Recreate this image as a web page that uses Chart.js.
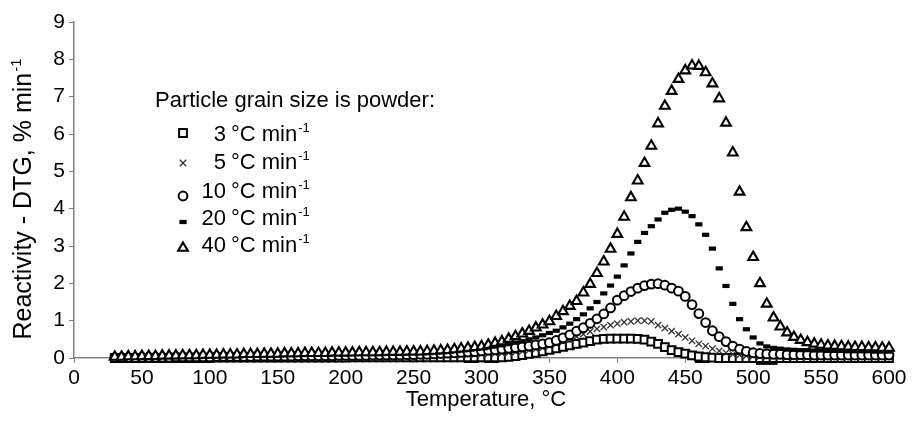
<!DOCTYPE html>
<html>
<head>
<meta charset="utf-8">
<script src="https://cdn.jsdelivr.net/npm/chart.js"></script>
<style>
  html, body { margin: 0; padding: 0; background: #fff; }
  #wrap { width: 914px; height: 431px; }
</style>
</head>
<body>
<div id="wrap"><canvas id="chart" width="914" height="431"></canvas></div>
<script>
// temperature, °C (one reading every 5 °C)
const temps = [
  30, 35, 40, 45, 50, 55, 60, 65, 70, 75,
  80, 85, 90, 95, 100, 105, 110, 115, 120, 125,
  130, 135, 140, 145, 150, 155, 160, 165, 170, 175,
  180, 185, 190, 195, 200, 205, 210, 215, 220, 225,
  230, 235, 240, 245, 250, 255, 260, 265, 270, 275,
  280, 285, 290, 295, 300, 305, 310, 315, 320, 325,
  330, 335, 340, 345, 350, 355, 360, 365, 370, 375,
  380, 385, 390, 395, 400, 405, 410, 415, 420, 425,
  430, 435, 440, 445, 450, 455, 460, 465, 470, 475,
  480, 485, 490, 495, 500, 505, 510, 515, 520, 525,
  530, 535, 540, 545, 550, 555, 560, 565, 570, 575,
  580, 585, 590, 595, 600
];

// DTG, % min-1
const rate3 = [
  0.00, 0.00, 0.00, 0.00, 0.00, 0.00, 0.00, 0.00, 0.00, 0.00,
  0.00, 0.00, 0.00, 0.00, 0.00, 0.01, 0.01, 0.01, 0.01, 0.01,
  0.01, 0.01, 0.01, 0.01, 0.01, 0.01, 0.01, 0.01, 0.01, 0.01,
  0.01, 0.01, 0.01, 0.01, 0.01, 0.02, 0.02, 0.02, 0.02, 0.02,
  0.02, 0.02, 0.02, 0.02, 0.02, 0.02, 0.02, 0.02, 0.02, 0.02,
  0.02, 0.02, 0.02, 0.02, 0.02, 0.02, 0.02, 0.02, 0.03, 0.05,
  0.08, 0.11, 0.14, 0.18, 0.22, 0.26, 0.30, 0.34, 0.38, 0.41,
  0.45, 0.49, 0.51, 0.52, 0.52, 0.52, 0.52, 0.51, 0.49, 0.44,
  0.38, 0.29, 0.21, 0.16, 0.12, 0.07, 0.04, 0.02, 0.01, 0.00,
  0.00, 0.00, 0.00, 0.00, 0.00, 0.00, 0.00, 0.00, 0.00, 0.00,
  0.00, 0.00, 0.00, 0.00, 0.00, 0.00, 0.00, 0.00, 0.00, 0.00,
  0.00, 0.00, 0.00, 0.00, 0.00
];

const rate5 = [
  0.00, 0.00, 0.00, 0.01, 0.01, 0.01, 0.01, 0.01, 0.01, 0.01,
  0.01, 0.01, 0.02, 0.02, 0.02, 0.02, 0.02, 0.02, 0.02, 0.02,
  0.03, 0.03, 0.03, 0.03, 0.03, 0.03, 0.03, 0.03, 0.03, 0.04,
  0.04, 0.04, 0.04, 0.04, 0.04, 0.04, 0.05, 0.05, 0.05, 0.05,
  0.05, 0.05, 0.05, 0.06, 0.06, 0.06, 0.06, 0.07, 0.07, 0.07,
  0.08, 0.08, 0.09, 0.09, 0.10, 0.11, 0.12, 0.13, 0.14, 0.16,
  0.18, 0.21, 0.24, 0.27, 0.32, 0.37, 0.43, 0.50, 0.57, 0.64,
  0.71, 0.78, 0.83, 0.88, 0.92, 0.96, 0.98, 1.00, 1.00, 0.98,
  0.88, 0.80, 0.72, 0.64, 0.55, 0.46, 0.38, 0.32, 0.25, 0.19,
  0.14, 0.10, 0.08, 0.06, 0.05, 0.04, 0.04, 0.04, 0.03, 0.03,
  0.03, 0.03, 0.03, 0.03, 0.03, 0.03, 0.03, 0.03, 0.03, 0.03,
  0.03, 0.03, 0.03, 0.03, 0.03
];

const rate10 = [
  0.01, 0.01, 0.01, 0.01, 0.02, 0.02, 0.02, 0.02, 0.02, 0.03,
  0.03, 0.03, 0.03, 0.03, 0.03, 0.04, 0.04, 0.04, 0.04, 0.04,
  0.04, 0.05, 0.05, 0.05, 0.05, 0.05, 0.05, 0.06, 0.06, 0.06,
  0.06, 0.06, 0.06, 0.07, 0.07, 0.07, 0.07, 0.07, 0.08, 0.08,
  0.08, 0.08, 0.08, 0.09, 0.09, 0.10, 0.10, 0.11, 0.12, 0.13,
  0.14, 0.15, 0.16, 0.17, 0.19, 0.21, 0.22, 0.24, 0.26, 0.28,
  0.30, 0.32, 0.35, 0.38, 0.41, 0.47, 0.54, 0.62, 0.72, 0.81,
  0.93, 1.05, 1.18, 1.34, 1.55, 1.67, 1.78, 1.87, 1.94, 1.98,
  1.99, 1.95, 1.87, 1.79, 1.65, 1.43, 1.19, 0.95, 0.73, 0.57,
  0.44, 0.32, 0.24, 0.18, 0.14, 0.12, 0.11, 0.10, 0.10, 0.09,
  0.09, 0.09, 0.09, 0.08, 0.08, 0.08, 0.08, 0.08, 0.08, 0.08,
  0.08, 0.08, 0.08, 0.08, 0.08
];

const rate20 = [
  0.02, 0.02, 0.02, 0.03, 0.03, 0.03, 0.03, 0.04, 0.04, 0.04,
  0.04, 0.05, 0.05, 0.05, 0.05, 0.06, 0.06, 0.06, 0.06, 0.07,
  0.07, 0.07, 0.07, 0.08, 0.08, 0.08, 0.08, 0.09, 0.09, 0.09,
  0.09, 0.10, 0.10, 0.10, 0.10, 0.11, 0.11, 0.11, 0.11, 0.12,
  0.12, 0.12, 0.13, 0.13, 0.14, 0.14, 0.15, 0.16, 0.17, 0.18,
  0.19, 0.21, 0.22, 0.24, 0.26, 0.28, 0.31, 0.34, 0.37, 0.41,
  0.45, 0.50, 0.55, 0.61, 0.67, 0.73, 0.82, 0.92, 1.04, 1.17,
  1.33, 1.50, 1.73, 1.94, 2.18, 2.48, 2.80, 3.11, 3.35, 3.53,
  3.71, 3.89, 3.97, 4.00, 3.92, 3.80, 3.58, 3.30, 2.93, 2.40,
  1.93, 1.45, 1.04, 0.77, 0.55, 0.39, 0.31, 0.27, 0.25, 0.23,
  0.22, 0.21, 0.21, 0.20, 0.20, 0.19, 0.19, 0.19, 0.18, 0.18,
  0.18, 0.18, 0.17, 0.17, 0.17
];

const rate40 = [
  0.03, 0.03, 0.04, 0.04, 0.05, 0.05, 0.05, 0.06, 0.06, 0.06,
  0.07, 0.07, 0.07, 0.08, 0.08, 0.08, 0.09, 0.09, 0.09, 0.10,
  0.10, 0.10, 0.11, 0.11, 0.11, 0.12, 0.12, 0.12, 0.13, 0.13,
  0.13, 0.13, 0.14, 0.14, 0.14, 0.14, 0.15, 0.15, 0.15, 0.15,
  0.16, 0.16, 0.16, 0.17, 0.17, 0.17, 0.18, 0.19, 0.20, 0.21,
  0.23, 0.25, 0.27, 0.29, 0.31, 0.35, 0.40, 0.44, 0.51, 0.58,
  0.65, 0.72, 0.81, 0.89, 0.98, 1.12, 1.25, 1.39, 1.52, 1.75,
  1.98, 2.27, 2.58, 2.92, 3.32, 3.78, 4.30, 4.75, 5.22, 5.68,
  6.28, 6.75, 7.15, 7.47, 7.70, 7.83, 7.82, 7.65, 7.35, 6.95,
  6.30, 5.50, 4.45, 3.50, 2.70, 2.00, 1.45, 1.08, 0.84, 0.68,
  0.56, 0.48, 0.42, 0.38, 0.35, 0.33, 0.32, 0.31, 0.30, 0.29,
  0.29, 0.28, 0.28, 0.27, 0.27
];

// stray dash marks just under the zero line
const strayT = [230, 235, 240, 245, 250, 290, 295, 305, 310, 460, 465, 505, 510, 515];
const strayV = [-0.19, -0.19, -0.19, -0.19, -0.19, -0.10, -0.10, -0.10, -0.10, -0.10, -0.10, -0.15, -0.15, -0.15];

const legendTitle = "Particle grain size is powder:";
const legendRates = ["3", "5", "10", "20", "40"];

const xTicksStep = 50;
const yTicksStep = 1;

const FONT = "'Liberation Sans', Arial, sans-serif";

function pts(xs, ys) {
    return xs.map((x, i) => ({ x: x, y: ys[i] }));
}

// marker styles, also used for the legend
const markers = [
    { pointStyle: "rect", radius: 5.5, borderWidth: 2, borderColor: "#000", backgroundColor: "#fff" },
    { pointStyle: "crossRot", radius: 4.5, borderWidth: 1.3, borderColor: "#333", backgroundColor: "#333" },
    { pointStyle: "circle", radius: 4.4, borderWidth: 2, borderColor: "#000", backgroundColor: "#fff" },
    { pointStyle: "line", radius: 3.6, borderWidth: 4.2, borderColor: "#000", backgroundColor: "#000" },
    { pointStyle: "triangle", radius: 5.6, borderWidth: 2.1, borderColor: "#000", backgroundColor: "#fff" }
];

const series = [rate3, rate5, rate10, rate20, rate40];

const datasets = series.map((vals, i) => ({
    label: legendRates[i] + " °C min-1",
    data: pts(temps, vals),
    showLine: false,
    pointStyle: markers[i].pointStyle,
    pointRadius: markers[i].radius,
    pointHoverRadius: markers[i].radius,
    pointBorderWidth: markers[i].borderWidth,
    pointBorderColor: markers[i].borderColor,
    pointBackgroundColor: markers[i].backgroundColor,
    order: 4 - i,
    clip: false
}));

datasets.push({
    label: "stray",
    data: pts(strayT, strayV),
    showLine: false,
    pointStyle: "line",
    pointRadius: 4,
    pointBorderWidth: 2.5,
    pointBorderColor: "#000",
    order: 5,
    clip: false
});

// text with a raised "-1"
function drawSupText(ctx, text, sup, x, y, size) {
    ctx.font = size + "px " + FONT;
    ctx.fillText(text, x, y);
    const w = ctx.measureText(text).width;
    ctx.font = Math.round(size * 0.6) + "px " + FONT;
    ctx.fillText(sup, x + w + 1, y - size * 0.42);
}

function supWidth(ctx, text, sup, size) {
    ctx.font = size + "px " + FONT;
    const w = ctx.measureText(text).width;
    ctx.font = Math.round(size * 0.6) + "px " + FONT;
    return w + 1 + ctx.measureText(sup).width;
}

const decorations = {
    id: "decorations",
    afterDraw(chart) {
        const ctx = chart.ctx;
        ctx.save();
        ctx.fillStyle = "#000";
        ctx.textBaseline = "alphabetic";

        // x axis title
        ctx.font = "22px " + FONT;
        ctx.textAlign = "center";
        ctx.fillText("Temperature, °C", 486, 406);

        // y axis title
        ctx.textAlign = "left";
        const ySize = 25;
        const yw = supWidth(ctx, "Reactivity - DTG, % min", "-1", ySize);
        ctx.save();
        ctx.translate(31, 199);
        ctx.rotate(-Math.PI / 2);
        drawSupText(ctx, "Reactivity - DTG, % min", "-1", -yw / 2, 0, ySize);
        ctx.restore();

        // legend
        ctx.font = "22px " + FONT;
        ctx.fillText(legendTitle, 155, 107);
        const rowY = [133, 161, 190, 217, 244];
        const markY = [133, 163, 196, 222, 248];
        legendRates.forEach((r, i) => {
            const m = markers[i];
            ctx.fillStyle = m.backgroundColor;
            ctx.strokeStyle = m.borderColor;
            ctx.lineWidth = m.borderWidth;
            Chart.helpers.drawPoint(ctx, { pointStyle: m.pointStyle, radius: m.radius, rotation: 0, borderWidth: m.borderWidth }, 183, markY[i]);
            ctx.fillStyle = "#000";
            ctx.font = "22px " + FONT;
            ctx.textAlign = "right";
            ctx.fillText(r, 226, rowY[i] + 8);
            ctx.textAlign = "left";
            drawSupText(ctx, "°C min", "-1", 231, rowY[i] + 8, 22);
        });
        ctx.restore();
    }
};

new Chart(document.getElementById("chart"), {
    type: "scatter",
    data: { datasets: datasets },
    options: {
        responsive: false,
        animation: false,
        devicePixelRatio: 1,
        layout: { padding: { top: 22, right: 25, left: 0, bottom: 0 } },
        plugins: {
            legend: { display: false },
            tooltip: { enabled: false }
        },
        scales: {
            x: {
                type: "linear",
                min: 0,
                max: 600,
                ticks: { stepSize: xTicksStep, color: "#000", font: { family: FONT, size: 21 }, padding: 3, maxRotation: 0 },
                grid: { display: true, drawOnChartArea: false, drawTicks: true, tickLength: 5, color: "#808080" },
                border: { display: true, color: "#808080", width: 1.5 },
                afterFit: (scale) => { scale.height = 73; }
            },
            y: {
                min: 0,
                max: 9,
                ticks: { stepSize: yTicksStep, color: "#000", font: { family: FONT, size: 21 }, padding: 4 },
                grid: { display: true, drawOnChartArea: false, drawTicks: true, tickLength: 5, color: "#808080" },
                border: { display: true, color: "#808080", width: 1.5 },
                afterFit: (scale) => { scale.width = 74; }
            }
        }
    },
    plugins: [decorations]
});
</script>
</body>
</html>
